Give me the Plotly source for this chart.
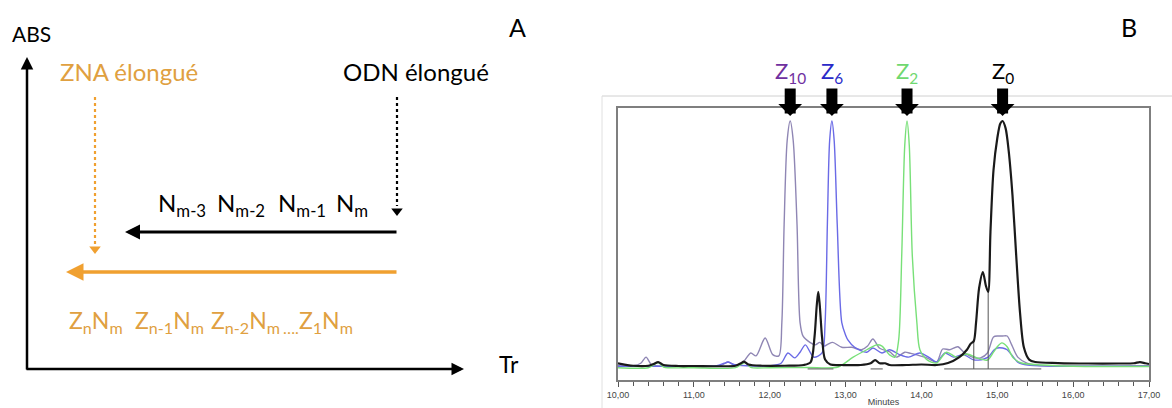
import plotly.graph_objects as go

W, H = 1172, 408

# ---- panel B : chromatogram data (minutes, relative absorbance) ----
black_t = [10.00, 10.20, 10.40, 10.47, 10.53, 10.60, 10.80, 11.00, 11.30, 11.55, 11.62, 11.66, 11.72, 11.90,
           12.20, 12.45, 12.54, 12.59, 12.62, 12.64, 12.66, 12.69, 12.73, 12.80, 12.95, 13.20, 13.33, 13.39,
           13.45, 13.52, 13.58, 13.80, 14.00, 14.20, 14.35, 14.50, 14.60, 14.65, 14.69, 14.72, 14.76, 14.81,
           14.85, 14.88, 14.91, 14.95, 15.00, 15.04, 15.07, 15.11, 15.15, 15.20, 15.25, 15.30, 15.35, 15.42,
           15.50, 15.80, 16.20, 16.60, 16.80, 16.88, 16.95, 17.00]
black_a = [1.5, 0.5, 0.5, 1.2, 2.0, 0.8, 0.4, 0.4, 0.3, 0.5, 1.5, 2.2, 1.0, 0.5,
           0.5, 0.8, 2.0, 12, 25, 30.5, 25, 12, 3, 1.0, 0.8, 0.8, 1.5, 2.8,
           1.5, 1.5, 0.8, 0.8, 1.0, 0.8, 1.6, 4, 7, 9.5, 10.5, 18, 32, 38.6,
           33, 30.5, 55, 80, 93, 99, 100, 97, 88, 70, 45, 22, 8, 3,
           2, 1.6, 1.4, 1.4, 1.5, 2.0, 1.5, 1.2]

purple_t = [10.00, 10.20, 10.30, 10.37, 10.44, 10.60, 11.00, 11.35, 11.45, 11.55, 11.65, 11.75, 11.82, 11.94,
            12.04, 12.12, 12.16, 12.19, 12.23, 12.27, 12.31, 12.36, 12.40, 12.44, 12.53, 12.60, 12.66, 12.72,
            12.77, 12.83, 12.95, 13.08, 13.21, 13.29, 13.36, 13.45, 13.58, 13.67, 13.78, 13.86, 13.94, 14.07,
            14.20, 14.28, 14.37, 14.48, 14.57, 14.70, 14.78, 14.87, 14.95, 15.01, 15.07, 15.13, 15.19, 15.27,
            15.39, 15.60, 16.00, 16.50, 17.00]
purple_a = [0.5, 0.5, 1.5, 4, 1.0, 0.3, 0.3, 0.5, 2, 0.8, 2, 5.7, 4.5, 11.8,
            5, 4.5, 18, 58, 92, 100, 92, 58, 18, 12.5, 10, 9, 10, 8.5,
            9.3, 10, 8, 8, 7, 8.5, 11.4, 7.6, 6.2, 4, 6, 5.5, 4.9, 3.7,
            2, 7.3, 7, 8.2, 5.7, 3.7, 3.7, 5.7, 12.2, 12.6, 12.6, 12.6, 9, 4,
            1.6, 0.5, 0.3, 0.3, 0.5]

blue_t = [10.00, 10.50, 11.00, 11.30, 11.40, 11.45, 11.52, 11.70, 12.00, 12.15, 12.24, 12.33, 12.40, 12.47,
          12.58, 12.69, 12.73, 12.76, 12.79, 12.82, 12.85, 12.89, 12.95, 13.00, 13.03, 13.12, 13.28, 13.36,
          13.48, 13.58, 13.72, 13.83, 13.98, 14.11, 14.20, 14.31, 14.42, 14.55, 14.68, 14.75, 14.88, 14.96,
          15.00, 15.07, 15.13, 15.19, 15.27, 15.40, 15.70, 16.20, 17.00]
blue_a = [0.3, 0.3, 0.3, 0.5, 1.5, 2, 1.0, 0.5, 0.5, 1.5, 5.7, 3.7, 6, 9,
          4, 5.7, 18, 58, 92, 100, 92, 58, 18, 13, 11, 8, 6, 7.7,
          5.7, 7, 4.9, 4, 5.7, 3.7, 2, 5.7, 4, 5, 3, 2.8, 4, 7,
          7.7, 7.7, 7, 4.9, 2, 0.8, 0.4, 0.3, 0.3]

green_t = [10.00, 10.40, 10.48, 10.53, 10.60, 11.00, 11.55, 11.63, 11.68, 11.75, 12.00, 12.50, 12.90, 13.10,
           13.28, 13.41, 13.48, 13.58, 13.65, 13.70, 13.74, 13.78, 13.81, 13.84, 13.88, 13.94, 13.98, 14.08,
           14.20, 14.33, 14.46, 14.60, 14.73, 14.87, 14.95, 15.00, 15.06, 15.13, 15.21, 15.32, 15.59, 16.00,
           16.50, 17.00]
green_a = [-0.3, -0.3, 1.0, 1.8, 0, -0.3, -0.3, 1.2, 1.8, -0.2, -0.3, -0.2, 0, 4,
           7, 9, 8.5, 4.9, 4, 11, 45, 90, 100, 90, 45, 18, 7, 2.8,
           1.6, 6, 4, 5.3, 3.7, 2.8, 6, 8.2, 9.8, 8.2, 3.7, 1.6, 0.8, 0.3,
           0.2, 0.2]

# integration baselines and drop lines (None separates segments)
integ_t = [12.50, 12.84, None, 13.33, 13.49, None, 14.30, 15.58, None, 14.69, 14.69, None, 14.88, 14.88]
integ_a = [-0.8, -0.8, None, -0.8, -0.8, None, -0.8, -0.8, None, -0.8, 10.5, None, -0.8, 30.5]

peak_labels = ["Z<sub>10</sub>", "Z<sub>6</sub>", "Z<sub>2</sub>", "Z<sub>0</sub>"]
peak_times = [12.27, 12.82, 13.81, 15.07]
peak_colors = ["#7030a0", "#2a2ac8", "#70d870", "#000000"]

tick_vals = [10, 11, 12, 13, 14, 15, 16, 17]
tick_text = ["10,00", "11,00", "12,00", "13,00", "14,00", "15,00", "16,00", "17,00"]

# ---- panel A : schematic (positions in panel pixels) ----
orange = "#f0a030"
orange_txt = "#e0a040"
n_labels = ["N<sub>m-3</sub>", "N<sub>m-2</sub>", "N<sub>m-1</sub>", "N<sub>m</sub>"]
n_label_x = [156, 215, 276, 334]
z_labels = ["Z<sub>n</sub>N<sub>m</sub>", "Z<sub>n-1</sub>N<sub>m</sub>", "Z<sub>n-2</sub>N<sub>m</sub>",
            "<sub>….</sub>Z<sub>1</sub>N<sub>m</sub>"]
z_label_x = [67, 133, 209, 281]

FONT = "Lato"

fig = go.Figure()

# chromatogram traces
for t, a, col, w in [(purple_t, purple_a, "#8f86b4", 1.4), (blue_t, blue_a, "#6a6ae6", 1.4),
                     (green_t, green_a, "#78e078", 1.4)]:
    fig.add_trace(go.Scatter(x=t, y=a, mode="lines", line=dict(color=col, width=w, shape="spline",
                                                               smoothing=0.8),
                             hoverinfo="skip", showlegend=False))
fig.add_trace(go.Scatter(x=integ_t, y=integ_a, mode="lines", line=dict(color="#555555", width=1),
                         hoverinfo="skip", showlegend=False))
fig.add_trace(go.Scatter(x=black_t, y=black_a, mode="lines",
                         line=dict(color="#1a1a1a", width=2.2, shape="spline", smoothing=0.8),
                         hoverinfo="skip", showlegend=False))

# schematic dotted arrows
for xx, y0, y1, col in [(95, 97, 244, orange), (397, 97, 206, "#000000")]:
    fig.add_trace(go.Scatter(x=[xx, xx], y=[y0, y1], xaxis="x2", yaxis="y2", mode="lines",
                             line=dict(color=col, width=2.2, dash="dot"), hoverinfo="skip",
                             showlegend=False))
    fig.add_trace(go.Scatter(x=[xx], y=[y1 + 5], xaxis="x2", yaxis="y2", mode="markers",
                             marker=dict(symbol="triangle-down", size=10, color=col),
                             hoverinfo="skip", showlegend=False))

ann = []
# schematic solid arrows: (tail_x, tail_y, tip_x, tip_y, colour, width)
for tx, ty, hx, hy, col, w in [(27, 371, 27, 57, "#000000", 2.5), (25, 369, 464, 369, "#000000", 2.5),
                               (398, 232, 125, 232, "#000000", 3), (398, 272, 66, 272, orange, 3.5)]:
    ann.append(dict(x=hx, y=hy, ax=tx, ay=ty, xref="x2", yref="y2", axref="x2", ayref="y2",
                    showarrow=True, arrowhead=2, arrowsize=1, arrowwidth=w, arrowcolor=col, text=""))


def txt(x, y, s, size, color="#000000", anchor="center"):
    ann.append(dict(x=x, y=y, xref="x2", yref="y2", text=s, showarrow=False, xanchor=anchor,
                    yanchor="middle", font=dict(family=FONT, size=size, color=color)))


txt(31, 33, "ABS", 21)
txt(517, 27, "A", 25)
txt(509, 364, "Tr", 23)
txt(129, 71, "ZNA élongué", 24, orange_txt)
txt(416, 71, "ODN élongué", 24)
for s, x in zip(n_labels, n_label_x):
    txt(x, 204, s, 24, anchor="left")
for s, x in zip(z_labels, z_label_x):
    txt(x, 321, s, 23, orange_txt, anchor="left")

# panel B labels and block arrows
ann.append(dict(x=1129 / W, y=1 - 27 / H, xref="paper", yref="paper", text="B", showarrow=False,
                xanchor="center", yanchor="middle", font=dict(family=FONT, size=25, color="#000000")))
for s, t, col in zip(peak_labels, peak_times, peak_colors):
    ann.append(dict(x=t, y=1 - 72 / H, xref="x", yref="paper", text=s, showarrow=False,
                    xanchor="center", yanchor="middle", font=dict(family=FONT, size=22, color=col)))
    ann.append(dict(x=t, y=1 - 116 / H, ax=0, ay=-29, xref="x", yref="paper", text="",
                    showarrow=True, arrowhead=1, arrowsize=0.36, arrowwidth=11, arrowcolor="#000000"))

shapes = [
    dict(type="line", xref="paper", yref="paper", x0=602 / W, x1=1, y0=1 - 96 / H, y1=1 - 96 / H,
         line=dict(color="#d0d0d0", width=1)),
    dict(type="line", xref="paper", yref="paper", x0=602 / W, x1=602 / W, y0=0, y1=1 - 96 / H,
         line=dict(color="#e0e0e0", width=1)),
]

fig.update_layout(
    width=W, height=H, autosize=False, margin=dict(l=0, r=0, t=0, b=0),
    paper_bgcolor="white", plot_bgcolor="white", showlegend=False,
    annotations=ann, shapes=shapes,
    xaxis=dict(domain=[618 / W, 1149 / W], range=[10, 17], showline=True, mirror=True,
               linecolor="#7f7f7f", linewidth=2, showgrid=False, zeroline=False,
               ticks="outside", ticklen=5, tickcolor="#555555", tickvals=tick_vals, ticktext=tick_text,
               minor=dict(dtick=0.2, ticks="outside", ticklen=4, tickcolor="#555555", showgrid=False),
               tickfont=dict(family="Liberation Sans", size=9, color="#444444"),
               title=dict(text="Minutes", font=dict(family="Liberation Sans", size=9, color="#444444"),
                          standoff=0),
               automargin=False, fixedrange=True),
    yaxis=dict(domain=[1 - 380 / H, 1 - 108 / H], range=[-5.3, 105.3], showline=True, mirror=True,
               linecolor="#7f7f7f", linewidth=2, showgrid=False, zeroline=False,
               showticklabels=False, ticks="", automargin=False, fixedrange=True),
    xaxis2=dict(domain=[0, 560 / W], range=[0, 560], visible=False, fixedrange=True, anchor="y2"),
    yaxis2=dict(domain=[0, 1], range=[H, 0], visible=False, fixedrange=True, anchor="x2"),
)

# the page body has a default 8px margin; remove it so the figure fills the window
fig.write_html("out.html", config={"displayModeBar": False},
               post_script="document.body.style.margin='0';")
